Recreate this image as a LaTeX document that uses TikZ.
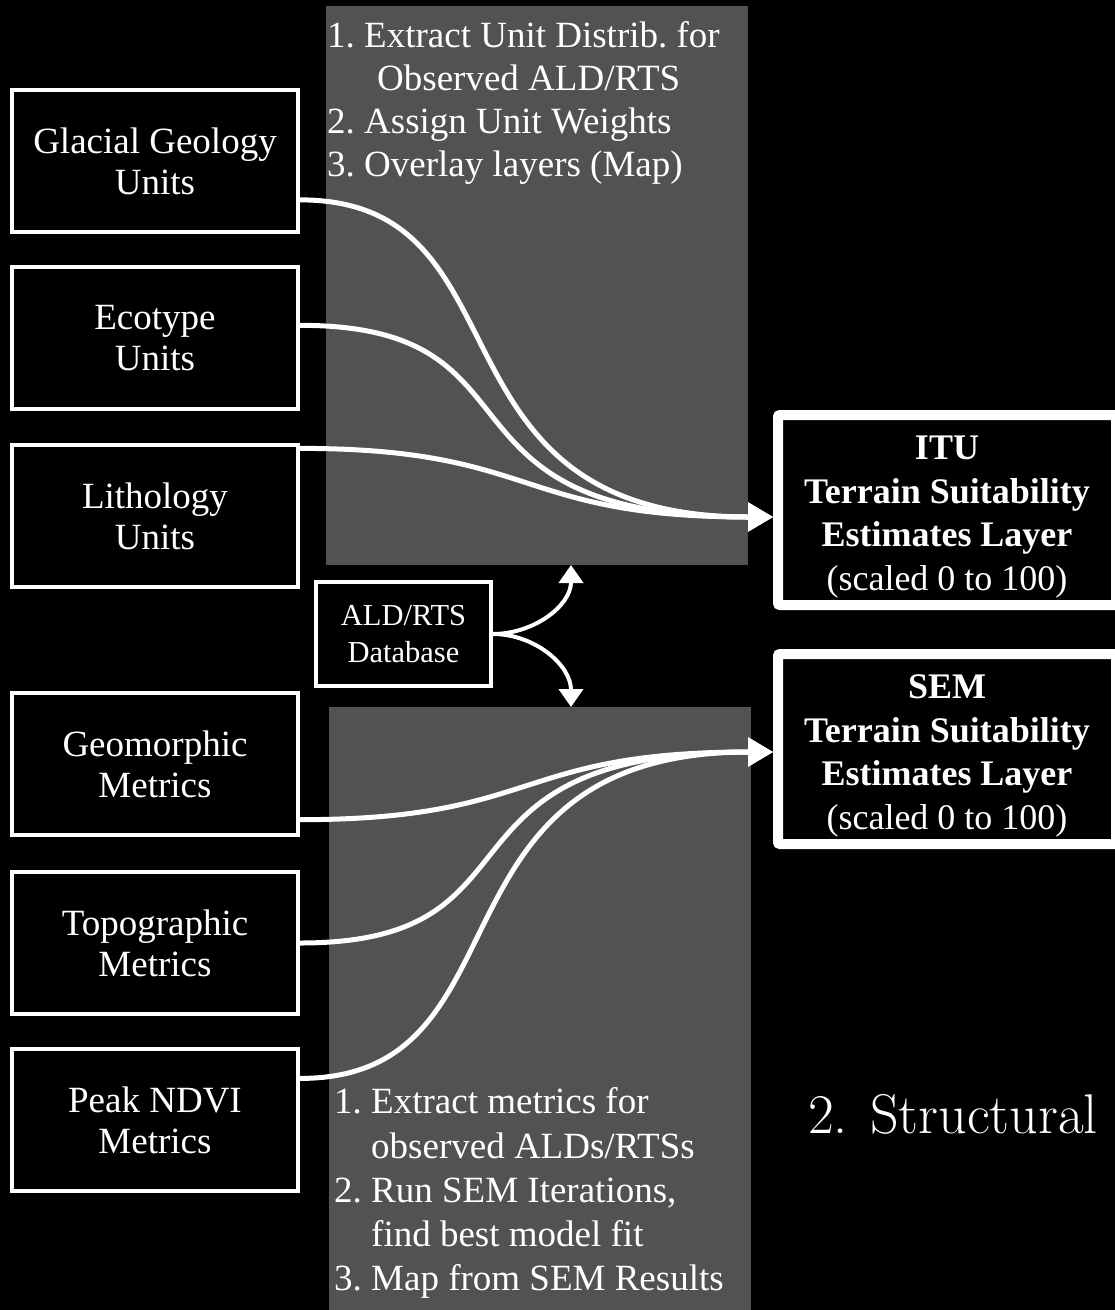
\documentclass[tikz,border=0pt]{standalone}
\usepackage{fontspec}
\usetikzlibrary{arrows.meta}
\newfontfamily\tnr{Liberation Serif}
\definecolor{panelgray}{RGB}{82,82,82}
\frenchspacing
\begin{document}
\begin{tikzpicture}[x=1pt,y=-1pt,
  inbox/.style={draw=white, line width=4pt, fill=black, text=white,
    minimum width=286pt, minimum height=142pt, inner sep=0pt, align=center,
    font=\tnr\fontsize{37}{41}\selectfont},
  outbox/.style={draw=white, line width=10pt, fill=black, text=white,
    rounded corners=2pt, minimum width=338pt, minimum height=190pt,
    inner sep=0pt, align=center, font=\tnr\bfseries\fontsize{36}{43.5}\selectfont},
  dbbox/.style={draw=white, line width=3.5pt, fill=black, text=white,
    minimum width=175pt, minimum height=104pt, inner sep=0pt, align=center,
    font=\tnr\fontsize{30.5}{37}\selectfont},
  panel/.style={fill=panelgray, draw=none, inner sep=0pt, outer sep=0pt},
  steptext/.style={anchor=base west, text=white, inner sep=0pt,
    font=\tnr\fontsize{37}{43}\selectfont},
  flow/.style={draw=white, line width=5pt, -{Triangle[length=25pt,width=28pt]}},
  dbflow/.style={draw=white, line width=4pt, -{Triangle[length=18pt,width=24pt]}},
]
\useasboundingbox (0,0) rectangle (1115,1310);
\fill[black] (0,0) rectangle (1115,1310);
\clip (0,0) rectangle (1115,1310);

% processing panels
\node[panel, minimum width=422pt, minimum height=559pt] (toppanel) at (537,285.5) {};
\node[panel, minimum width=422pt, minimum height=613pt] (botpanel) at (540,1013.5) {};

% steps of the unit-weighting method
\node[steptext] (s1a) at (327,47)  {1. Extract Unit Distrib. for};
\node[steptext] (s1b) at (377,90)  {Observed ALD/RTS};
\node[steptext] (s1c) at (327,133) {2. Assign Unit Weights};
\node[steptext] (s1d) at (327,176) {3. Overlay layers (Map)};

% steps of the SEM method
\node[steptext] (s2a) at (334,1113) {1. Extract metrics for};
\node[steptext] (s2b) at (371,1158) {observed ALDs/RTSs};
\node[steptext] (s2c) at (334,1202) {2. Run SEM Iterations,};
\node[steptext] (s2d) at (371,1246) {find best model fit};
\node[steptext] (s2e) at (334,1290) {3. Map from SEM Results};

% input layers
\node[inbox] (glac)  at (155,161)  {Glacial Geology\\Units};
\node[inbox] (eco)   at (155,338)  {Ecotype\\Units};
\node[inbox] (lith)  at (155,516)  {Lithology\\Units};
\node[inbox] (geo)   at (155,764)  {Geomorphic\\Metrics};
\node[inbox] (topo)  at (155,943)  {Topographic\\Metrics};
\node[inbox] (ndvi)  at (155,1120) {Peak NDVI\\Metrics};

% observation database
\node[dbbox] (ald) at (403.5,634) {ALD/RTS\\Database};

% output layers
\node[outbox] (itu) at (947,510)
  {\rule{0pt}{38pt}ITU\\Terrain Suitability\\Estimates Layer\\\mdseries(scaled 0 to 100)};
\node[outbox] (sem) at (947,749)
  {\rule{0pt}{38pt}SEM\\Terrain Suitability\\Estimates Layer\\\mdseries(scaled 0 to 100)};

% section title
\node[anchor=base west, text=white, inner sep=0pt,
  font=\rmfamily\fontsize{56}{64}\selectfont] (title) at (808,1133) {2.\hspace{0.4em}Structural};

% database feeds both methods
\draw[dbflow] (ald.east) to[out=0,in=-90] ([xshift=34pt]toppanel.south);
\draw[dbflow] (ald.east) to[out=0,in=90]  ([xshift=31pt]botpanel.north);

% unit layers into the ITU estimate
\draw[flow] (glac.-15) .. controls +(236,0) and +(-357,0) .. ([yshift=-7pt]itu.west);
\draw[flow] (eco.5)    .. controls +(256,0) and +(-356,0) .. ([yshift=-7pt]itu.west);
\draw[flow] (lith.25)  .. controls +(239,0) and +(-259,0) .. ([yshift=-7pt]itu.west);

% metric layers into the SEM estimate
\draw[flow] (geo.-21)  .. controls +(240,0) and +(-260,0) .. ([yshift=-3pt]sem.west);
\draw[flow] (topo.east) .. controls +(256,0) and +(-356,0) .. ([yshift=-3pt]sem.west);
\draw[flow] (ndvi.16)  .. controls +(236,0) and +(-357,0) .. ([yshift=-3pt]sem.west);
\end{tikzpicture}
\end{document}
